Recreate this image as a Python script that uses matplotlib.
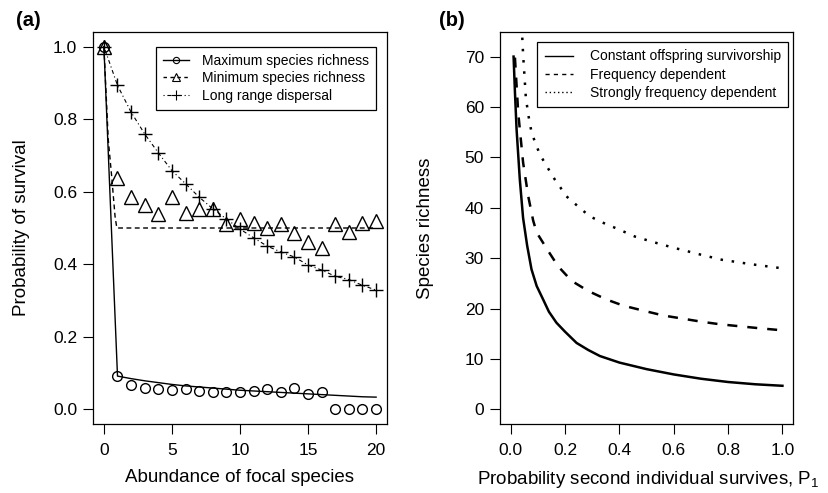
import matplotlib
matplotlib.use('Agg')
from matplotlib import pyplot as plt
from matplotlib.lines import Line2D

plt.rcParams['font.family'] = ['Liberation Sans', 'DejaVu Sans']
plt.rcParams['mathtext.fontset'] = 'custom'
plt.rcParams['mathtext.rm'] = 'Liberation Sans'
plt.rcParams['mathtext.it'] = 'Liberation Sans'

# panel (a): simulated survival vs abundance
abundance = list(range(21))
max_rich = [1.0, 0.092, 0.067, 0.060, 0.057, 0.055, 0.057, 0.050, 0.048, 0.048, 0.048,
            0.050, 0.057, 0.048, 0.060, 0.043, 0.048, 0.0, 0.0, 0.0, 0.0]
min_rich = [1.0, 0.637, 0.585, 0.562, 0.539, 0.586, 0.542, 0.553, 0.551, 0.511, 0.525,
            0.515, 0.501, 0.510, 0.486, 0.461, 0.444, 0.511, 0.488, 0.515, 0.520]
long_disp = [1.0, 0.893, 0.819, 0.759, 0.707, 0.658, 0.622, 0.585, 0.553, 0.525, 0.497,
             0.473, 0.450, 0.434, 0.420, 0.398, 0.384, 0.367, 0.358, 0.342, 0.329]
# theory curves
max_line = [1.0, 0.092, 0.085, 0.079, 0.074, 0.069, 0.065, 0.062, 0.059, 0.056, 0.053,
            0.051, 0.049, 0.047, 0.045, 0.043, 0.041, 0.039, 0.037, 0.035, 0.034]
min_line_x = [0, 0.32, 0.57, 0.82, 0.95, 20]
min_line_y = [1.0, 0.744, 0.643, 0.532, 0.50, 0.50]

# panel (b): species richness vs P1
const_x = [0.01, 0.015, 0.021, 0.033, 0.045, 0.06, 0.076, 0.095, 0.119, 0.14, 0.168, 0.2,
           0.242, 0.285, 0.328, 0.4, 0.5, 0.6, 0.7, 0.8, 0.9, 1.0]
const_y = [70, 63, 55.6, 45.6, 38, 32.5, 27.8, 24.5, 21.8, 19.4, 17.2, 15.4,
           13.2, 11.8, 10.6, 9.3, 8.0, 6.95, 6.1, 5.45, 5.0, 4.7]
freq_x = [0.015, 0.027, 0.045, 0.064, 0.082, 0.095, 0.138, 0.174, 0.224, 0.285, 0.353,
          0.414, 0.488, 0.561, 0.629, 0.703, 0.77, 0.844, 0.918, 1.0]
freq_y = [69.8, 58.9, 49.0, 42.3, 37.5, 35.1, 31.4, 28.4, 25.5, 23.5, 21.8,
          20.6, 19.6, 18.65, 18.05, 17.4, 16.9, 16.5, 16.1, 15.7]
strong_x = [0.04, 0.045, 0.055, 0.064, 0.076, 0.092, 0.107, 0.125, 0.144, 0.162, 0.183,
            0.2, 0.232, 0.26, 0.291, 0.322, 0.353, 0.39, 0.457, 0.525, 0.598, 0.635,
            0.70, 0.777, 0.887, 1.0]
strong_y = [76, 70.5, 62, 58.5, 55, 52.6, 50.6, 48.9, 47.2, 45.6, 44,
            42.5, 41, 39.7, 38.3, 37.5, 36.7, 35.9, 34.3, 33.2, 32.1, 31.6,
            30.7, 29.7, 28.8, 28.0]

W, H = 829, 493
fig = plt.figure(figsize=(W / 100, H / 100), dpi=100)
ax1 = fig.add_axes([93 / W, 1 - 424 / H, 294 / W, 392 / H])
ax2 = fig.add_axes([500 / W, 1 - 424 / H, 293.3 / W, 392 / H])

dashdot = (0, (1, 2.5, 3.5, 2.5))

ax1.plot(abundance, max_line, color='black', lw=1)
ax1.plot(min_line_x, min_line_y, color='black', lw=1, linestyle=(0, (3.5, 2.5)))
ax1.plot(abundance, long_disp, color='black', lw=0.8, linestyle=dashdot)
ax1.plot(abundance, max_rich, linestyle='none', marker='o', ms=7, mfc='none', mec='black', mew=1)
ax1.plot(abundance, min_rich, linestyle='none', marker='^', ms=9.5, mfc='none', mec='black', mew=1)
ax1.plot(abundance, long_disp, linestyle='none', marker='+', ms=10, mec='black', mew=1)

ax1.set_xlim(-0.8, 20.8)
ax1.set_ylim(-0.04, 1.04)
ax1.set_xticks([0, 5, 10, 15, 20])
ax1.set_yticks([0.0, 0.2, 0.4, 0.6, 0.8, 1.0])
ax1.set_yticklabels(['0.0', '0.2', '0.4', '0.6', '0.8', '1.0'])
ax1.set_xlabel('Abundance of focal species', fontsize=13.5)
ax1.set_ylabel('Probability of survival', fontsize=13.5)
ax1.xaxis.set_label_coords(0.5, -0.115)
ax1.yaxis.set_label_coords(-0.214, 0.5)

handles1 = [
    Line2D([], [], color='black', lw=1, marker='o', ms=4.5, mfc='none', mew=0.8),
    Line2D([], [], color='black', lw=1, linestyle=(0, (2.5, 2.5)), marker='^', ms=5.5, mfc='none', mew=0.8),
    Line2D([], [], color='black', lw=0.8, linestyle=dashdot, marker='+', ms=7, mew=0.8),
]
leg1 = ax1.legend(handles1, ['Maximum species richness', 'Minimum species richness', 'Long range dispersal'],
                  loc='upper right', bbox_to_anchor=(0.9616, 0.9625), borderaxespad=0,
                  fontsize=10, handlelength=1.9, handletextpad=0.9, labelspacing=0.25,
                  borderpad=0.5, fancybox=False, edgecolor='black', framealpha=1)
leg1.get_frame().set_linewidth(0.9)

ax2.plot(const_x, const_y, color='black', lw=1.8)
ax2.plot(freq_x, freq_y, color='black', lw=1.8, linestyle=(0, (4, 4)))
ax2.plot(strong_x, strong_y, color='black', lw=1.8, linestyle=(0, (1, 3.5)))
ax2.set_xlim(-0.04, 1.04)
ax2.set_ylim(-2.88, 74.88)
ax2.set_xticks([0.0, 0.2, 0.4, 0.6, 0.8, 1.0])
ax2.set_xticklabels(['0.0', '0.2', '0.4', '0.6', '0.8', '1.0'])
ax2.set_yticks([0, 10, 20, 30, 40, 50, 60, 70])
ax2.set_xlabel('Probability second individual survives, P$_1$', fontsize=13.5)
ax2.set_ylabel('Species richness', fontsize=13.5)
ax2.xaxis.set_label_coords(0.505, -0.115)
ax2.yaxis.set_label_coords(-0.225, 0.5)

handles2 = [
    Line2D([], [], color='black', lw=1),
    Line2D([], [], color='black', lw=1, linestyle=(0, (3, 3))),
    Line2D([], [], color='black', lw=1, linestyle=(0, (1, 2))),
]
leg2 = ax2.legend(handles2, ['Constant offspring survivorship', 'Frequency dependent',
                             'Strongly frequency dependent'],
                  loc='upper right', bbox_to_anchor=(0.983, 0.975), borderaxespad=0,
                  fontsize=10, handlelength=2.0, handletextpad=1.2, labelspacing=0.3,
                  borderpad=0.55, fancybox=False, edgecolor='black', framealpha=1)
leg2.get_frame().set_linewidth(0.9)

for ax in (ax1, ax2):
    for s in ax.spines.values():
        s.set_linewidth(0.9)
    ax.tick_params(direction='out', length=7.5, width=0.8, labelsize=12.5, pad=4)
    ax.tick_params(axis='x', pad=6)

fig.text(16 / W, 1 - 21 / H, '(a)', fontsize=14.5, fontweight='bold', va='center', ha='left')
fig.text(439 / W, 1 - 21 / H, '(b)', fontsize=14.5, fontweight='bold', va='center', ha='left')

fig.savefig('out.png', dpi=100)
